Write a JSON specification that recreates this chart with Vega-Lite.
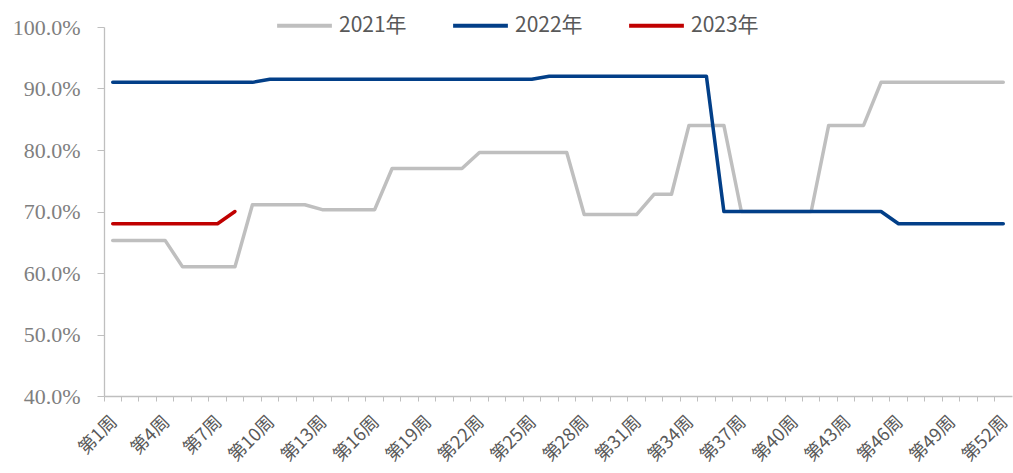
{
 "$schema": "https://vega.github.io/schema/vega-lite/v6.json",
 "autosize": {"type": "none"},
 "width": 908,
 "height": 369,
 "padding": {"left": 104, "top": 27, "right": 1, "bottom": 77},
 "background": "white",
 "config": {"view": {"stroke": null}},
 "data": {"values": [
  {"week":1,"year":"2021年","rate":0.653},{"week":2,"year":"2021年","rate":0.653},{"week":3,"year":"2021年","rate":0.653},{"week":4,"year":"2021年","rate":0.653},
  {"week":5,"year":"2021年","rate":0.610},{"week":6,"year":"2021年","rate":0.610},{"week":7,"year":"2021年","rate":0.610},{"week":8,"year":"2021年","rate":0.610},
  {"week":9,"year":"2021年","rate":0.711},{"week":10,"year":"2021年","rate":0.711},{"week":11,"year":"2021年","rate":0.711},{"week":12,"year":"2021年","rate":0.711},
  {"week":13,"year":"2021年","rate":0.703},{"week":14,"year":"2021年","rate":0.703},{"week":15,"year":"2021年","rate":0.703},{"week":16,"year":"2021年","rate":0.703},
  {"week":17,"year":"2021年","rate":0.770},{"week":18,"year":"2021年","rate":0.770},{"week":19,"year":"2021年","rate":0.770},{"week":20,"year":"2021年","rate":0.770},{"week":21,"year":"2021年","rate":0.770},
  {"week":22,"year":"2021年","rate":0.796},{"week":23,"year":"2021年","rate":0.796},{"week":24,"year":"2021年","rate":0.796},{"week":25,"year":"2021年","rate":0.796},{"week":26,"year":"2021年","rate":0.796},{"week":27,"year":"2021年","rate":0.796},
  {"week":28,"year":"2021年","rate":0.695},{"week":29,"year":"2021年","rate":0.695},{"week":30,"year":"2021年","rate":0.695},{"week":31,"year":"2021年","rate":0.695},
  {"week":32,"year":"2021年","rate":0.728},{"week":33,"year":"2021年","rate":0.728},
  {"week":34,"year":"2021年","rate":0.840},{"week":35,"year":"2021年","rate":0.840},{"week":36,"year":"2021年","rate":0.840},
  {"week":37,"year":"2021年","rate":0.700},{"week":38,"year":"2021年","rate":0.700},{"week":39,"year":"2021年","rate":0.700},{"week":40,"year":"2021年","rate":0.700},{"week":41,"year":"2021年","rate":0.700},
  {"week":42,"year":"2021年","rate":0.840},{"week":43,"year":"2021年","rate":0.840},{"week":44,"year":"2021年","rate":0.840},
  {"week":45,"year":"2021年","rate":0.910},{"week":46,"year":"2021年","rate":0.910},{"week":47,"year":"2021年","rate":0.910},{"week":48,"year":"2021年","rate":0.910},{"week":49,"year":"2021年","rate":0.910},{"week":50,"year":"2021年","rate":0.910},{"week":51,"year":"2021年","rate":0.910},{"week":52,"year":"2021年","rate":0.910},
  {"week":1,"year":"2022年","rate":0.910},{"week":2,"year":"2022年","rate":0.910},{"week":3,"year":"2022年","rate":0.910},{"week":4,"year":"2022年","rate":0.910},{"week":5,"year":"2022年","rate":0.910},{"week":6,"year":"2022年","rate":0.910},{"week":7,"year":"2022年","rate":0.910},{"week":8,"year":"2022年","rate":0.910},{"week":9,"year":"2022年","rate":0.910},
  {"week":10,"year":"2022年","rate":0.915},{"week":11,"year":"2022年","rate":0.915},{"week":12,"year":"2022年","rate":0.915},{"week":13,"year":"2022年","rate":0.915},{"week":14,"year":"2022年","rate":0.915},{"week":15,"year":"2022年","rate":0.915},{"week":16,"year":"2022年","rate":0.915},{"week":17,"year":"2022年","rate":0.915},{"week":18,"year":"2022年","rate":0.915},{"week":19,"year":"2022年","rate":0.915},{"week":20,"year":"2022年","rate":0.915},{"week":21,"year":"2022年","rate":0.915},{"week":22,"year":"2022年","rate":0.915},{"week":23,"year":"2022年","rate":0.915},{"week":24,"year":"2022年","rate":0.915},{"week":25,"year":"2022年","rate":0.915},
  {"week":26,"year":"2022年","rate":0.920},{"week":27,"year":"2022年","rate":0.920},{"week":28,"year":"2022年","rate":0.920},{"week":29,"year":"2022年","rate":0.920},{"week":30,"year":"2022年","rate":0.920},{"week":31,"year":"2022年","rate":0.920},{"week":32,"year":"2022年","rate":0.920},{"week":33,"year":"2022年","rate":0.920},{"week":34,"year":"2022年","rate":0.920},{"week":35,"year":"2022年","rate":0.920},
  {"week":36,"year":"2022年","rate":0.700},{"week":37,"year":"2022年","rate":0.700},{"week":38,"year":"2022年","rate":0.700},{"week":39,"year":"2022年","rate":0.700},{"week":40,"year":"2022年","rate":0.700},{"week":41,"year":"2022年","rate":0.700},{"week":42,"year":"2022年","rate":0.700},{"week":43,"year":"2022年","rate":0.700},{"week":44,"year":"2022年","rate":0.700},{"week":45,"year":"2022年","rate":0.700},
  {"week":46,"year":"2022年","rate":0.680},{"week":47,"year":"2022年","rate":0.680},{"week":48,"year":"2022年","rate":0.680},{"week":49,"year":"2022年","rate":0.680},{"week":50,"year":"2022年","rate":0.680},{"week":51,"year":"2022年","rate":0.680},{"week":52,"year":"2022年","rate":0.680},
  {"week":1,"year":"2023年","rate":0.680},{"week":2,"year":"2023年","rate":0.680},{"week":3,"year":"2023年","rate":0.680},{"week":4,"year":"2023年","rate":0.680},{"week":5,"year":"2023年","rate":0.680},{"week":6,"year":"2023年","rate":0.680},{"week":7,"year":"2023年","rate":0.680},{"week":8,"year":"2023年","rate":0.700}
 ]},
 "mark": {"type": "line", "strokeWidth": 3.5, "strokeCap": "round", "strokeJoin": "round"},
 "encoding": {
  "x": {
   "field": "week", "type": "ordinal",
   "scale": {"type": "band", "paddingInner": 0, "paddingOuter": 0},
   "bandPosition": 0.5,
   "axis": {
    "title": null, "bandPosition": 0, "labelOffset": 2,
    "domainColor": "#BFBFBF", "domainWidth": 1.3, "tickColor": "#BFBFBF", "tickSize": 5,
    "labelAngle": -45, "labelAlign": "right", "labelBaseline": "middle", "labelPadding": 18,
    "labelFont": "Noto Sans CJK SC", "labelFontSize": 18, "labelColor": "#595959",
    "labelOverlap": false, "labelFlush": false, "labelBound": false,
    "labelExpr": "(datum.value - 1) % 3 == 0 ? '第' + datum.value + '周' : ''"
   }
  },
  "y": {
   "field": "rate", "type": "quantitative",
   "scale": {"domain": [0.4, 1.0], "nice": false, "zero": false},
   "axis": {
    "title": null, "values": [0.4, 0.5, 0.6, 0.7, 0.8, 0.9, 1.0], "format": ".1%", "grid": false,
    "domainColor": "#BFBFBF", "domainWidth": 1.3, "tickColor": "#BFBFBF", "tickSize": 7,
    "labelFont": "Liberation Serif", "labelFontSize": 22, "labelColor": "#7F7F7F", "labelPadding": 17
   }
  },
  "color": {
   "field": "year", "type": "nominal",
   "scale": {"domain": ["2021年", "2022年", "2023年"], "range": ["#BFBFBF", "#023F88", "#C00000"]},
   "legend": {
    "orient": "none", "legendX": 171, "legendY": -31, "direction": "horizontal", "title": null,
    "symbolType": "stroke", "symbolSize": 3000, "symbolStrokeWidth": 4,
    "labelFont": "Noto Sans CJK SC", "labelFontSize": 21, "labelColor": "#595959",
    "labelOffset": 5, "columnPadding": 38
   }
  }
 }
}
